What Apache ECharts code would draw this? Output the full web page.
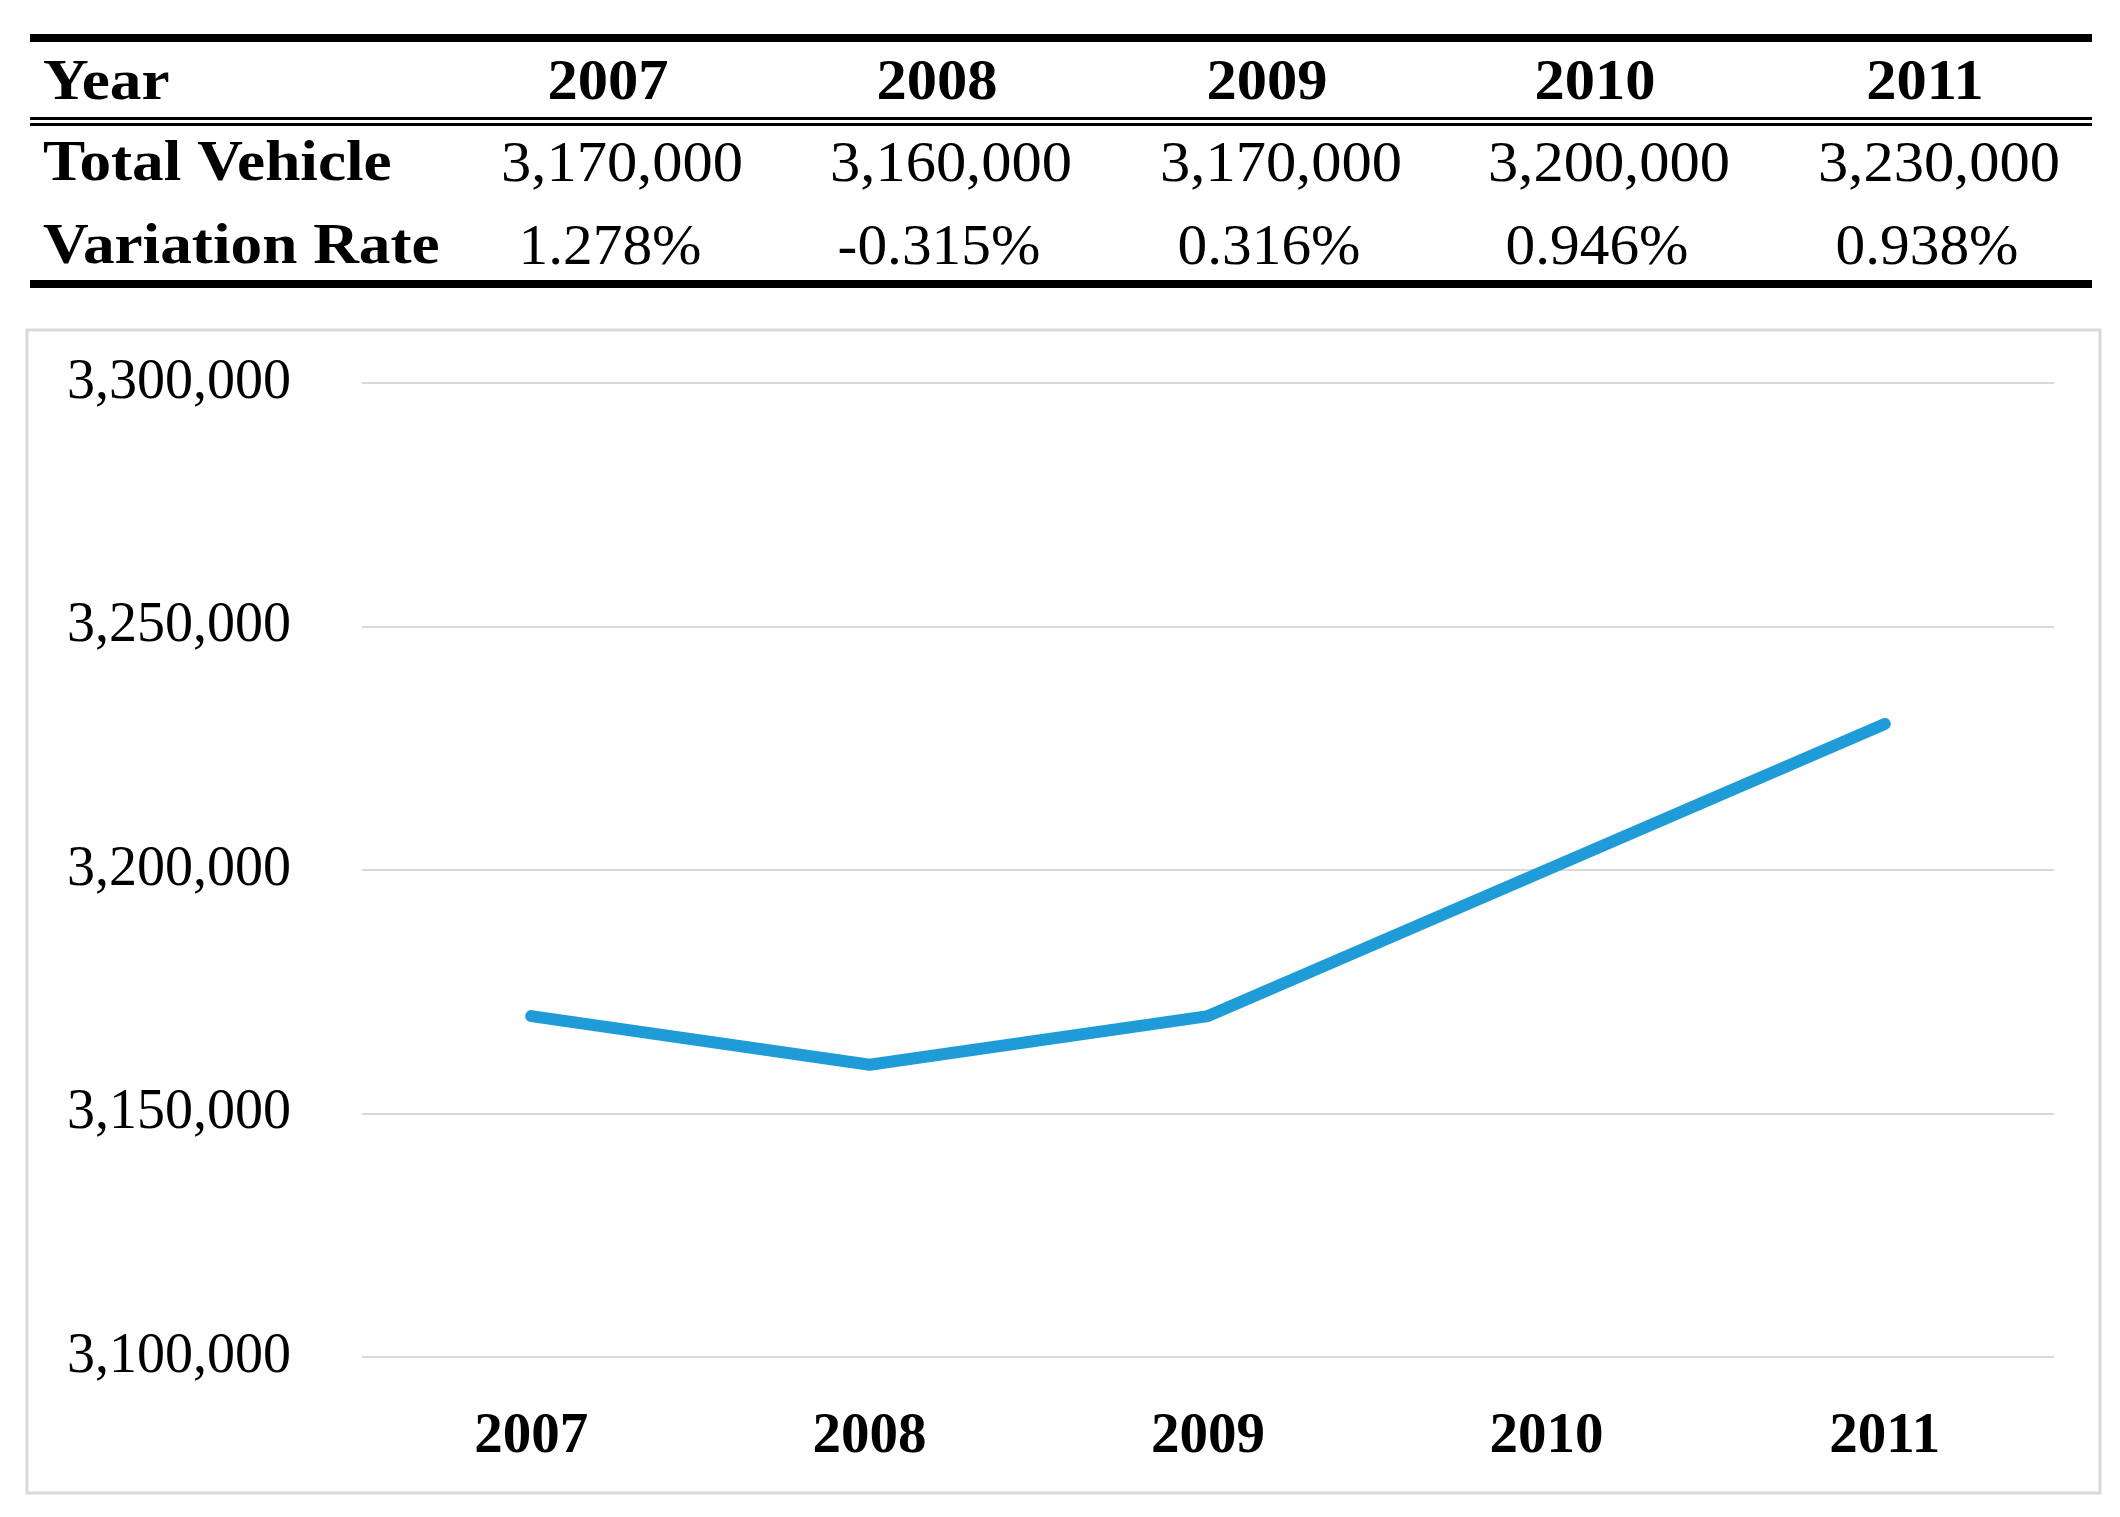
<!DOCTYPE html>
<html><head><meta charset="utf-8">
<script src="https://cdn.jsdelivr.net/npm/echarts@6/dist/echarts.min.js"></script>
<style>html,body{margin:0;padding:0;background:#fff}#c{width:2120px;height:1517px}</style>
</head><body><div id="c"></div>
<script>
// ---- data ----
const years = ['2007', '2008', '2009', '2010', '2011'];
const totalVehicle = [3170000, 3160000, 3170000, 3200000, 3230000];
const variationRate = ['1.278%', '-0.315%', '0.316%', '0.946%', '0.938%'];
const rowLabels = ['Year', 'Total Vehicle', 'Variation Rate'];
const yMin = 3100000, yMax = 3300000, yInterval = 50000;

// ---- layout ----
const FONT = '"Liberation Serif", "Times New Roman", serif';
const colX = [608, 937, 1267, 1595, 1925];
const rowY = [85, 166, 249];
const tableLeft = 30, tableRight = 2092;
const fmt = v => v.toLocaleString('en-US');

const g = [];
// chart box
g.push({type: 'rect', z: -1, shape: {x: 27, y: 330, width: 2073, height: 1163},
  style: {fill: '#fff', stroke: '#d9d9d9', lineWidth: 3}});
// table rules
const rule = (y, h) => g.push({type: 'rect', shape: {x: tableLeft, y: y, width: tableRight - tableLeft, height: h}, style: {fill: '#000'}});
rule(34, 8);
rule(117, 3);
rule(123, 3);
rule(280, 8);
// row labels
rowLabels.forEach((t, i) => g.push({type: 'text', x: 43, y: rowY[i], scaleX: 1.13,
  style: {text: t, font: 'bold 56px ' + FONT, fill: '#000', align: 'left', verticalAlign: 'middle'}}));
// header years
years.forEach((t, i) => g.push({type: 'text', x: colX[i], y: rowY[0], scaleX: 1.08,
  style: {text: t, font: 'bold 56px ' + FONT, fill: '#000', align: 'center', verticalAlign: 'middle'}}));
totalVehicle.forEach((v, i) => g.push({type: 'text', x: colX[i] + 14, y: rowY[1], scaleX: 1.08,
  style: {text: fmt(v), font: '56px ' + FONT, fill: '#000', align: 'center', verticalAlign: 'middle'}}));
variationRate.forEach((t, i) => g.push({type: 'text', x: colX[i] + 2, y: rowY[2], scaleX: 1.06,
  style: {text: t, font: '56px ' + FONT, fill: '#000', align: 'center', verticalAlign: 'middle'}}));

const chart = echarts.init(document.getElementById('c'));
chart.setOption({
  backgroundColor: '#fff',
  animation: false,
  graphic: g,
  grid: {left: 362, right: 66, top: 383, bottom: 160, containLabel: false},
  xAxis: {
    type: 'category', data: years, boundaryGap: true,
    axisLine: {show: false}, axisTick: {show: false},
    axisLabel: {fontFamily: FONT, fontSize: 57, fontWeight: 'bold', color: '#000', margin: 52}
  },
  yAxis: {
    type: 'value', min: yMin, max: yMax, interval: yInterval,
    axisLine: {show: false}, axisTick: {show: false},
    splitLine: {lineStyle: {color: '#d9d9d9', width: 2}},
    axisLabel: {fontFamily: FONT, fontSize: 56, color: '#000', margin: 71, formatter: v => fmt(v)}
  },
  series: [{
    type: 'line', data: totalVehicle, showSymbol: false, symbol: 'none',
    lineStyle: {color: '#1f9cd8', width: 12, cap: 'round', join: 'round'}
  }]
});
</script></body></html>
